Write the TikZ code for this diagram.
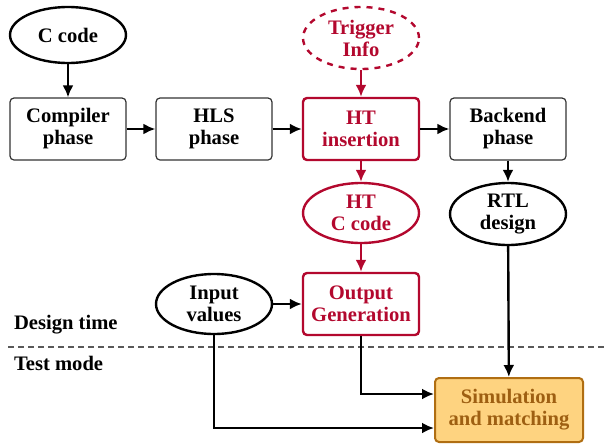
\documentclass[tikz,border=0pt]{standalone}
\usepackage{fontspec}
\setmainfont{Liberation Serif}
\usetikzlibrary{shapes.geometric,arrows.meta}

\definecolor{htred}{HTML}{B3082E}
\definecolor{simfill}{HTML}{FED380}
\definecolor{simdraw}{HTML}{B06E12}
\definecolor{simtext}{HTML}{9E5F12}

\begin{document}
\begin{tikzpicture}[x=0.5pt,y=-0.5pt,
    every node/.style={font=\fontsize{10.3}{11}\selectfont\bfseries, align=center},
    phasebox/.style={draw=black!80, line width=0.6pt, rounded corners=2pt, minimum width=58pt, minimum height=31pt, inner sep=0pt},
    htbox/.style={phasebox, draw=htred, line width=1.2pt, text=htred},
    oval/.style={ellipse, draw, line width=1.2pt, minimum width=58pt, minimum height=28pt, inner sep=0pt},
    htoval/.style={oval, draw=htred, text=htred},
    flow/.style={-{Latex[length=6pt,width=5.5pt]}, line width=1.2pt},
    htflow/.style={flow, draw=htred}]
    \useasboundingbox (0,0) rectangle (605,445);
        % top row
        \node[oval] (ccode) at (68,35) {C code};
        \node[htoval, dashed, minimum height=31pt] (trigger) at (361,38) {Trigger\\Info};
        \node[phasebox] (compiler) at (68,129) {Compiler\\phase};
        \node[phasebox] (hls) at (214,129) {HLS\\phase};
        \node[htbox] (insert) at (361,129) {HT\\insertion};
        \node[phasebox] (backend) at (508,129) {Backend\\phase};
        % middle
        \node[htoval, minimum height=30pt] (htc) at (361,213) {HT\\C code};
        \node[oval, minimum height=31pt] (rtl) at (508,214) {RTL\\design};
        \node[oval, minimum height=30pt] (input) at (214,304) {Input\\values};
        \node[htbox] (outgen) at (361,304) {Output\\Generation};
        % bottom
        \node[phasebox, fill=simfill, draw=simdraw, line width=1pt, text=simtext, minimum width=74pt, minimum height=32pt] (sim) at (509,410) {Simulation\\and matching};
        \node[anchor=west] (design) at (7,325) {Design time};
        \node[anchor=west] (test) at (7,363) {Test mode};
        \coordinate (sepl) at (8,347);
        \coordinate (sepr) at (605,347);
        \draw[dash pattern=on 3pt off 2pt, line width=1pt, black!65] (sepl) -- (sepr);
        % connectors
        \draw[flow] (ccode) -- (compiler);
        \draw[flow] (compiler) -- (hls);
        \draw[flow] (hls) -- (insert);
        \draw[flow] (insert) -- (backend);
        \draw[htflow] (trigger) -- (insert);
        \draw[htflow] (insert) -- (htc);
        \draw[htflow] (htc) -- (outgen);
        \draw[flow] (backend) -- (rtl);
        \draw[flow] (input) -- (outgen);
        \draw[flow] (rtl) -- (sim);
        \draw[flow] (outgen.south) |- ([yshift=8pt]sim.west);
        \draw[flow] (input.south) |- ([yshift=-9pt]sim.west);
\end{tikzpicture}
\end{document}
